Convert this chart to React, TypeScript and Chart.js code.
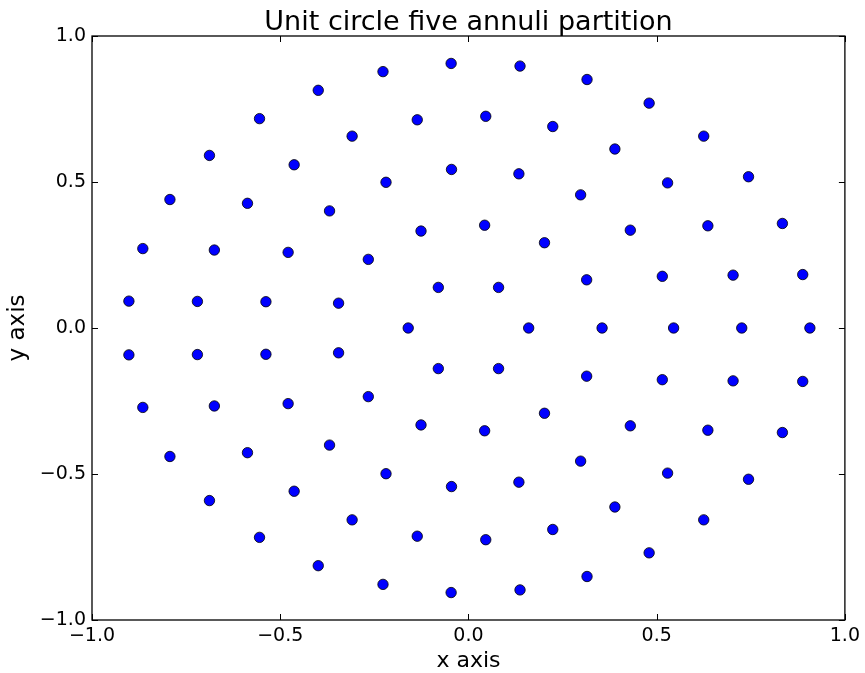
import React, { useEffect, useRef } from "react";
import { Chart, registerables } from "chart.js";

Chart.register(...registerables);

const titleText = "Unit circle five annuli partition";
const xAxisTitle = "x axis";
const yAxisTitle = "y axis";
const tickValues = [-1.0, -0.5, 0.0, 0.5, 1.0];

const ring1X = [0.160, 0.080, -0.080, -0.160, -0.080, 0.080];
const ring1Y = [0, 0.139, 0.139, 0, -0.139, -0.139];

const ring2X = [0.355, 0.314, 0.202, 0.043, -0.126, -0.266, -0.345, -0.345, -0.266, -0.126, 0.043, 0.202, 0.314];
const ring2Y = [0, 0.165, 0.292, 0.352, 0.332, 0.235, 0.085, -0.085, -0.235, -0.332, -0.352, -0.292, -0.165];

const ring3X = [0.545, 0.515, 0.430, 0.298, 0.134, -0.045, -0.219, -0.369, -0.479, -0.538, -0.538, -0.479, -0.369, -0.219, -0.045, 0.134, 0.298, 0.430, 0.515];
const ring3Y = [0, 0.177, 0.335, 0.456, 0.528, 0.543, 0.499, 0.401, 0.259, 0.090, -0.090, -0.259, -0.401, -0.499, -0.543, -0.528, -0.456, -0.335, -0.177];

const ring4X = [0.726, 0.703, 0.636, 0.529, 0.389, 0.224, 0.046, -0.136, -0.309, -0.463, -0.587, -0.675, -0.720, -0.720, -0.675, -0.587, -0.463, -0.309, -0.136, 0.046, 0.224, 0.389, 0.529, 0.636, 0.703];
const ring4Y = [0, 0.181, 0.350, 0.497, 0.613, 0.690, 0.725, 0.713, 0.657, 0.559, 0.427, 0.267, 0.091, -0.091, -0.267, -0.427, -0.559, -0.657, -0.713, -0.725, -0.690, -0.613, -0.497, -0.350, -0.181];

const ring5X = [0.907, 0.888, 0.834, 0.744, 0.625, 0.480, 0.315, 0.137, -0.046, -0.227, -0.399, -0.555, -0.688, -0.793, -0.865, -0.902, -0.902, -0.865, -0.793, -0.688, -0.555, -0.399, -0.227, -0.046, 0.137, 0.315, 0.480, 0.625, 0.744, 0.834, 0.888];
const ring5Y = [0, 0.183, 0.358, 0.518, 0.657, 0.770, 0.851, 0.897, 0.906, 0.878, 0.814, 0.717, 0.591, 0.440, 0.272, 0.092, -0.092, -0.272, -0.440, -0.591, -0.717, -0.814, -0.878, -0.906, -0.897, -0.851, -0.770, -0.657, -0.518, -0.358, -0.183];

const ringsX = [ring1X, ring2X, ring3X, ring4X, ring5X];
const ringsY = [ring1Y, ring2Y, ring3Y, ring4Y, ring5Y];

const FONT = "'DejaVu Sans', sans-serif";

const fmt = (v: number) => {
  const s = Number(v).toFixed(1);
  return s.startsWith("-") ? "\u2212" + s.slice(1) : s;
};

const framePlugin = {
  id: "frameTicks",
  afterDraw(chart: any) {
    const { ctx, chartArea } = chart;
    const { left, right, top, bottom } = chartArea;
    const xs = chart.scales.x;
    const ys = chart.scales.y;
    const len = 6;
    ctx.save();
    ctx.strokeStyle = "#000";
    ctx.lineWidth = 1;
    ctx.beginPath();
    tickValues.forEach((v) => {
      const px = Math.round(xs.getPixelForValue(v)) + 0.5;
      ctx.moveTo(px, bottom);
      ctx.lineTo(px, bottom - len);
      ctx.moveTo(px, top);
      ctx.lineTo(px, top + len);
      const py = Math.round(ys.getPixelForValue(v)) + 0.5;
      ctx.moveTo(left, py);
      ctx.lineTo(left + len, py);
      ctx.moveTo(right, py);
      ctx.lineTo(right - len, py);
    });
    ctx.stroke();
    ctx.lineWidth = 1.3;
    ctx.strokeRect(left, top, right - left, bottom - top);
    // title centred over the plot area
    ctx.fillStyle = "#000";
    ctx.font = "27px " + FONT;
    ctx.textAlign = "center";
    ctx.textBaseline = "alphabetic";
    ctx.fillText(titleText, (left + right) / 2, 29.5);
    ctx.restore();
  },
};

export default function App() {
  const ref = useRef<HTMLCanvasElement | null>(null);
  useEffect(() => {
    if (!ref.current) return;
    const points: { x: number; y: number }[] = [];
    ringsX.forEach((xsArr, i) => {
      xsArr.forEach((x, j) => points.push({ x, y: ringsY[i][j] }));
    });
    const chart = new Chart(ref.current, {
      type: "scatter",
      data: {
        datasets: [
          {
            data: points,
            backgroundColor: "#0000ff",
            borderColor: "#000000",
            borderWidth: 0.8,
            pointRadius: 5.2,
          },
        ],
      },
      options: {
        animation: false,
        responsive: false,
        layout: { padding: { left: 0, right: 19, top: 36, bottom: 0 } },
        plugins: {
          legend: { display: false },
          tooltip: { enabled: false },
          title: { display: false },
        },
        scales: {
          x: {
            type: "linear",
            min: -1,
            max: 1,
            afterFit: (s: any) => {
              s.height = 53;
            },
            afterBuildTicks: (s: any) => {
              s.ticks = tickValues.map((v) => ({ value: v }));
            },
            grid: { display: false, drawTicks: false },
            border: { display: false },
            ticks: {
              color: "#000",
              font: { family: FONT, size: 19 },
              padding: 5,
              callback: (v: any) => fmt(v),
              maxRotation: 0,
              autoSkip: false,
            },
            title: {
              display: true,
              text: xAxisTitle,
              color: "#000",
              font: { family: FONT, size: 22 },
              padding: { top: 0, bottom: -1.5 },
            },
          },
          y: {
            type: "linear",
            min: -1,
            max: 1,
            afterFit: (s: any) => {
              s.width = 92;
            },
            afterBuildTicks: (s: any) => {
              s.ticks = tickValues.map((v) => ({ value: v }));
            },
            grid: { display: false, drawTicks: false },
            border: { display: false },
            ticks: {
              color: "#000",
              font: { family: FONT, size: 19 },
              padding: 6,
              callback: (v: any) => fmt(v),
              autoSkip: false,
            },
            title: {
              display: true,
              text: yAxisTitle,
              color: "#000",
              font: { family: FONT, size: 23 },
              padding: { top: 4, bottom: 0 },
            },
          },
        },
      },
      plugins: [framePlugin],
    });
    return () => chart.destroy();
  }, []);
  return (
    <div style={{ position: "absolute", left: 0, top: 0, width: 865, height: 673, background: "#fff" }}>
      <canvas ref={ref} width={865} height={673} />
    </div>
  );
}
